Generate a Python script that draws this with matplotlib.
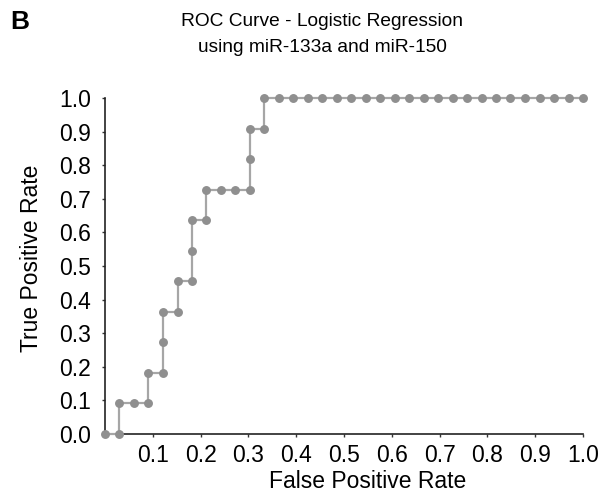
import matplotlib
matplotlib.use("Agg")
import matplotlib.pyplot as plt

plt.rcParams['font.family'] = ['Liberation Sans', 'DejaVu Sans']

# ROC points (False Positive Rate, True Positive Rate)
fpr = [0.000, 0.030, 0.030, 0.061, 0.091, 0.091, 0.121, 0.121, 0.121,
       0.152, 0.152, 0.182, 0.182, 0.182, 0.212, 0.212, 0.242, 0.273,
       0.303, 0.303, 0.303, 0.333, 0.333,
       0.364, 0.394, 0.424, 0.455, 0.485, 0.515, 0.545, 0.576, 0.606,
       0.636, 0.667, 0.697, 0.727, 0.758, 0.788, 0.818, 0.848, 0.879,
       0.909, 0.939, 0.970, 1.000]
tpr = [0.000, 0.000, 0.091, 0.091, 0.091, 0.182, 0.182, 0.273, 0.364,
       0.364, 0.455, 0.455, 0.545, 0.636, 0.636, 0.727, 0.727, 0.727,
       0.727, 0.818, 0.909, 0.909, 1.000,
       1.000, 1.000, 1.000, 1.000, 1.000, 1.000, 1.000, 1.000, 1.000,
       1.000, 1.000, 1.000, 1.000, 1.000, 1.000, 1.000, 1.000, 1.000,
       1.000, 1.000, 1.000, 1.000]

xticks = [0.1, 0.2, 0.3, 0.4, 0.5, 0.6, 0.7, 0.8, 0.9, 1.0]
yticks = [0.0, 0.1, 0.2, 0.3, 0.4, 0.5, 0.6, 0.7, 0.8, 0.9, 1.0]

W, H = 613, 500
fig = plt.figure(figsize=(W / 100, H / 100), dpi=100)
left, right, top, bottom = 105, 583, 98, 434
ax = fig.add_axes([left / W, 1 - bottom / H, (right - left) / W, (bottom - top) / H])

ax.plot(fpr, tpr, color='#a6a6a6', lw=1.6, marker='o', markersize=5.4,
        markerfacecolor='#8f8f8f', markeredgecolor='#8f8f8f', clip_on=False, zorder=3)

ax.set_xlim(0, 1)
ax.set_ylim(0, 1)
ax.set_xticks(xticks)
ax.set_xticklabels([f"{v:.1f}" for v in xticks])
ax.set_yticks(yticks)
ax.set_yticklabels([f"{v:.1f}" for v in yticks])
ax.tick_params(axis='both', labelsize=16.5, length=2.5, width=1, color='#333333')
ax.tick_params(axis='x', pad=4.5)
ax.tick_params(axis='y', pad=7.5)

for s in ['top', 'right']:
    ax.spines[s].set_visible(False)
for s in ['left', 'bottom']:
    ax.spines[s].set_color('#222222')
    ax.spines[s].set_linewidth(1.2)

fig.text(368 / W, 1 - 482 / H, 'False Positive Rate', ha='center', va='center', fontsize=16.5)
fig.text(32 / W, 1 - 258 / H, 'True Positive Rate', ha='center', va='center',
         rotation=90, fontsize=16.5)
fig.text(322 / W, 1 - 22 / H, 'ROC Curve - Logistic Regression', ha='center', va='center',
         fontsize=13.8)
fig.text(322 / W, 1 - 48 / H, 'using miR-133a and miR-150', ha='center', va='center',
         fontsize=13.8)
fig.text(10 / W, 1 - 22 / H, 'B', ha='left', va='center', fontsize=19, fontweight='bold')

fig.savefig('out.png', dpi=100, facecolor='white')
